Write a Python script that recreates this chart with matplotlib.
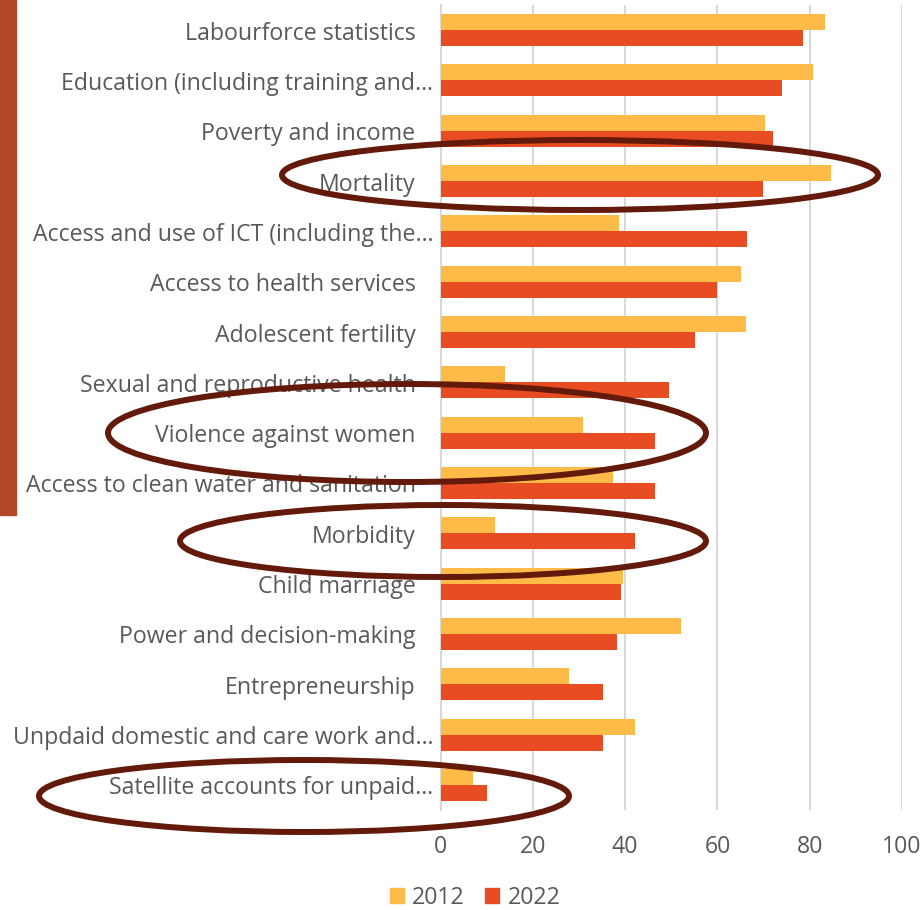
import matplotlib
matplotlib.use("Agg")
import matplotlib.pyplot as plt
import matplotlib.transforms as mtransforms
from matplotlib.patches import Ellipse, Rectangle, Patch
import numpy as np

plt.rcParams['font.family'] = ['Open Sans', 'DejaVu Sans']

categories = [
    "Labourforce statistics",
    "Education (including training and…",
    "Poverty and income",
    "Mortality",
    "Access and use of ICT (including the…",
    "Access to health services",
    "Adolescent fertility",
    "Sexual and reproductive health",
    "Violence against women",
    "Access to clean water and sanitation",
    "Morbidity",
    "Child marriage",
    "Power and decision-making",
    "Entrepreneurship",
    "Unpdaid domestic and care work and…",
    "Satellite accounts for unpaid…",
]
values_2012 = [83.4, 80.8, 70.4, 84.7, 38.7, 65.2, 66.1, 14.0, 30.9, 37.4, 11.8, 39.6, 52.2, 27.9, 42.2, 7.0]
values_2022 = [78.6, 73.9, 72.1, 69.9, 66.5, 60.0, 55.2, 49.6, 46.5, 46.5, 42.2, 39.2, 38.3, 35.2, 35.2, 10.1]
series_labels = ["2012", "2022"]
x_ticks = [0, 20, 40, 60, 80, 100]

C2012 = "#FFBB47"
C2022 = "#E84C22"
GREY = "#595959"
GRID = "#D9D9D9"
RING = "#641A0A"
FS = 16.7

W, H = 922, 910
fig = plt.figure(figsize=(W / 100, H / 100), dpi=100)

ax = fig.add_axes([440.5 / W, 1 - 810 / H, (902 - 440.5) / W, (810 - 5) / H])
y = np.arange(len(categories))
bh = 0.318
ax.barh(y - bh / 2, values_2012, height=bh, color=C2012, label=series_labels[0], zorder=3)
ax.barh(y + bh / 2, values_2022, height=bh, color=C2022, label=series_labels[1], zorder=3)
ax.set_ylim(len(categories) - 0.5, -0.5)
ax.set_xlim(0, 100)
ax.set_xticks(x_ticks)
ax.set_xticklabels([str(t) for t in x_ticks], fontsize=FS, color=GREY)
ax.tick_params(axis='x', length=0, pad=18)
ax.set_yticks([])
for s in ['top', 'right', 'bottom']:
    ax.spines[s].set_visible(False)
ax.spines['left'].set_color(GRID)
ax.spines['left'].set_linewidth(1.5)
ax.grid(axis='x', color=GRID, linewidth=1.5, zorder=0)
ax.set_axisbelow(True)

# category labels
for i, lab in enumerate(categories):
    off = -7 if lab.endswith("…") else -25
    tr = mtransforms.blended_transform_factory(ax.transAxes, ax.transData) + \
        mtransforms.ScaledTranslation(off / 100, -3.5 / 100, fig.dpi_scale_trans)
    ax.text(0, i, lab, transform=tr, ha='right', va='center', fontsize=FS, color=GREY)

# legend
handles = [Patch(color=C2012, label=series_labels[0]), Patch(color=C2022, label=series_labels[1])]
fig.legend(handles=handles, loc='center', bbox_to_anchor=(475 / W, 1 - 898 / H), ncol=2,
           frameon=False, fontsize=FS, handlelength=0.6, handleheight=0.6,
           handletextpad=0.35, columnspacing=0.9, labelcolor=GREY)

# overlay for decorations (pixel coordinates)
ov = fig.add_axes([0, 0, 1, 1], zorder=10)
ov.set_xlim(0, W)
ov.set_ylim(H, 0)
ov.axis('off')
ov.patch.set_alpha(0)
ov.add_patch(Rectangle((0, 0), 16, 515, color="#B5482A", zorder=1))
ellipses = [(580, 175, 596, 70), (407, 433, 598, 98), (443, 541, 526, 72), (304, 796, 530, 72)]
for cx, cy, ew, eh in ellipses:
    ov.add_patch(Ellipse((cx, cy), ew, eh, fill=False, edgecolor=RING, linewidth=4.3, zorder=5))

fig.savefig("out.png", dpi=100)
